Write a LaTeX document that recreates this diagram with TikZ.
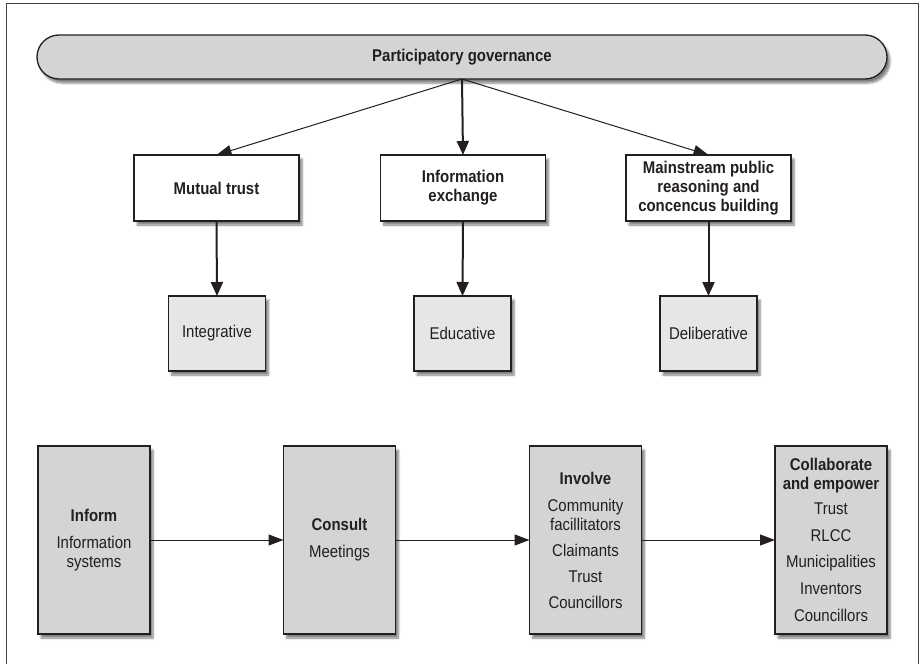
\documentclass[tikz,border=0pt]{standalone}
\usepackage{fontspec}
\setmainfont[FakeStretch=0.88]{Liberation Sans}
\usetikzlibrary{arrows.meta,shadows.blur}
\definecolor{ink}{HTML}{231F20}
\definecolor{pillgray}{HTML}{D3D4D6}
\definecolor{modegray}{HTML}{E6E6E8}
\tikzset{
 shad/.style={blur shadow={shadow xshift=3pt,shadow yshift=-4pt,shadow blur steps=6,shadow opacity=50}},
 boxbase/.style={draw=ink,line width=1.3pt,text=ink,align=center,inner sep=0pt,outer sep=0pt,font=\fontsize{17}{19}\selectfont,shad},
 pillbox/.style={boxbase,fill=pillgray,rounded corners=22pt,minimum width=850pt,minimum height=44pt,font=\fontsize{17}{19}\selectfont\bfseries},
 headbox/.style={boxbase,fill=white,minimum width=165pt,minimum height=66pt,font=\fontsize{17}{19}\selectfont\bfseries},
 modebox/.style={boxbase,fill=modegray,minimum width=97pt,minimum height=75pt},
 levelbox/.style={boxbase,fill=pillgray,minimum width=112pt,minimum height=188pt},
 thinarrow/.style={draw=ink,line width=1pt,-{Triangle[length=15pt,width=11pt]}},
 thickarrow/.style={draw=ink,line width=2pt,-{Triangle[length=14pt,width=12pt]}},
}
\begin{document}
\begin{tikzpicture}[x=1pt,y=-1pt]
\useasboundingbox (0,0) rectangle (922,664);
\draw[line width=1pt,draw=black!75] (6,3.5) rectangle (918.5,672);

\node[pillbox] (pill) at (462,57) {Participatory governance};

\node[headbox] (mt) at (216.5,188) {Mutual trust};
\node[headbox] (ie) at (463,188) {Information\\exchange};
\node[headbox] (mp) at (708.5,188) {Mainstream public\\reasoning and\\concencus building};

\node[modebox] (integ) at (217,333.5) {Integrative};
\node[modebox] (educ) at (462.5,333.5) {Educative};
\node[modebox] (delib) at (708.5,333.5) {Deliberative};

\node[levelbox] (inform) at (94,540) {\textbf{Inform}\\[8pt]Information\\systems};
\node[levelbox] (consult) at (339.5,540) {\textbf{Consult}\\[8pt]Meetings};
\node[levelbox] (involve) at (585.5,540) {\textbf{Involve}\\[8pt]Community\\facillitators\\[7pt]Claimants\\[7pt]Trust\\[7pt]Councillors};
\node[levelbox] (collab) at (831,540) {\textbf{Collaborate}\\\textbf{and empower}\\[6pt]Trust\\[8pt]RLCC\\[7pt]Municipalities\\[8pt]Inventors\\[8pt]Councillors};

\draw[thinarrow] (pill.south) -- (mt.north);
\draw[thickarrow] (pill.south) -- (ie.north);
\draw[thinarrow] (pill.south) -- (mp.north);

\draw[thickarrow] (mt.south) -- (integ.north);
\draw[thickarrow] (ie.south) -- (educ.north);
\draw[thickarrow] (mp.south) -- (delib.north);

\draw[thinarrow] (inform.east) -- (consult.west);
\draw[thinarrow] (consult.east) -- (involve.west);
\draw[thinarrow] (involve.east) -- (collab.west);
\end{tikzpicture}
\end{document}
